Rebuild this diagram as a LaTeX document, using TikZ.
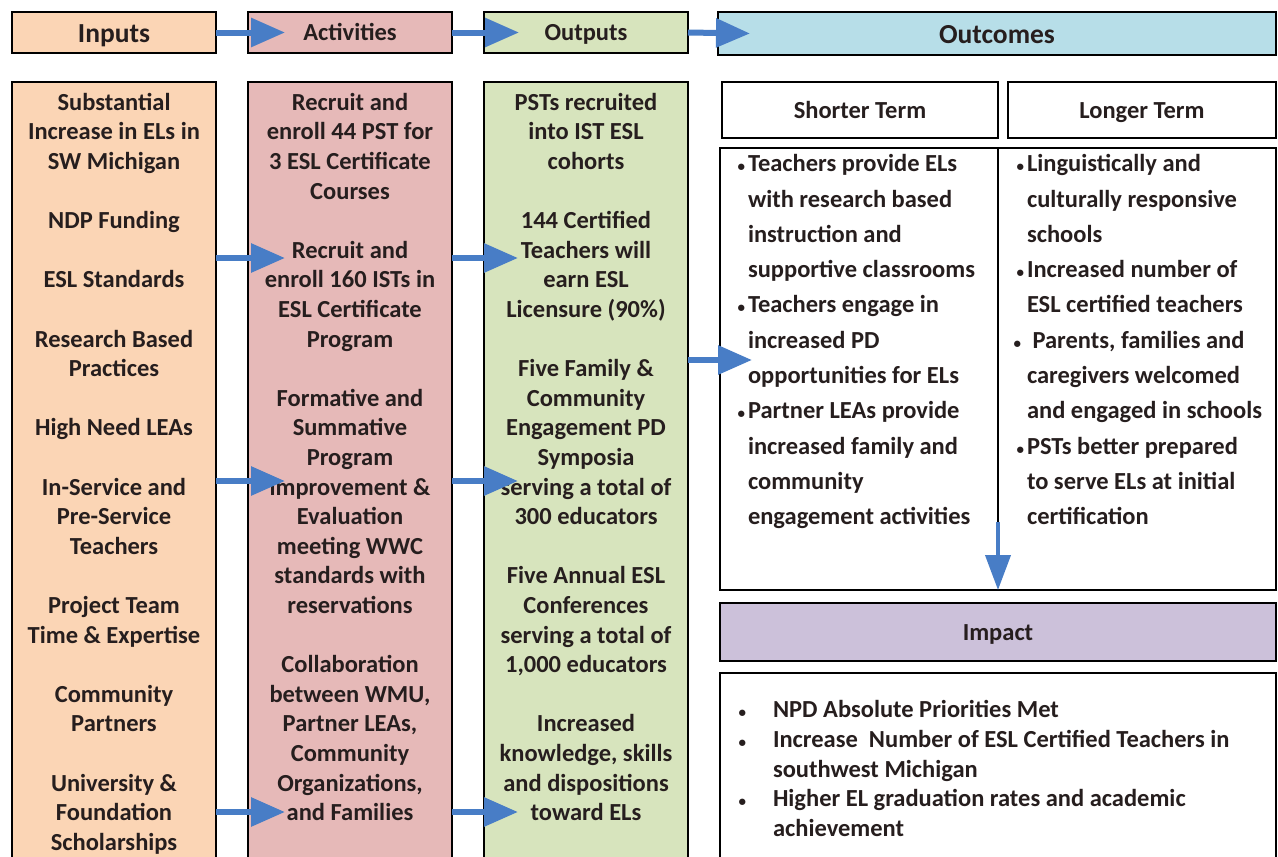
\documentclass[tikz,border=0pt]{standalone}
\usepackage{fontspec}
\setmainfont{Carlito}
\usetikzlibrary{arrows.meta,positioning,calc}

\definecolor{inputfill}{RGB}{251,213,181}
\definecolor{activityfill}{RGB}{230,185,184}
\definecolor{outputfill}{RGB}{215,228,189}
\definecolor{outcomefill}{RGB}{183,222,232}
\definecolor{impactfill}{RGB}{204,193,218}
\definecolor{arrowblue}{RGB}{72,125,198}
\definecolor{inkdark}{RGB}{38,30,30}

\tikzset{
  box/.style={draw=black, line width=2.6pt, inner sep=0pt, outer sep=0pt, anchor=north west},
  headfont/.style={font=\bfseries\fontsize{24.5}{29.6}\selectfont, text=inkdark,
    text height=19.5pt, text depth=3pt},
  bigfont/.style={font=\bfseries\fontsize{27.5}{30}\selectfont, text=inkdark,
    text height=22pt, text depth=3pt},
  coltext/.style={align=center, inner sep=0pt, outer sep=0pt, anchor=north,
    font=\bfseries\fontsize{24.5}{29.6}\selectfont, text=inkdark},
  listtext/.style={align=left, inner sep=0pt, outer sep=0pt, anchor=north west,
    font=\bfseries\fontsize{24.5}{35.3}\selectfont, text=inkdark},
  flow/.style={draw=arrowblue, line width=6pt, -{Triangle[length=34pt,width=28pt]}},
}
\newcommand{\blt}[1]{\llap{{\fontsize{15}{15}\selectfont\textbullet}\hspace{#1}}}

\begin{document}
\begin{tikzpicture}[x=1pt, y=-1pt]

    \useasboundingbox (0,0) rectangle (1278,857);
    \clip (0,0) rectangle (1278,857);
    \fill[white] (0,0) rectangle (1278,857);

    % headers
    \node[box, bigfont, fill=inputfill, minimum width=204pt, minimum height=41pt]
        (head_in) at (12,12) {Inputs};
    \node[box, headfont, fill=activityfill, minimum width=204pt, minimum height=41pt]
        (head_act) at (248,12) {Activities};
    \node[box, headfont, fill=outputfill, minimum width=204pt, minimum height=41pt]
        (head_out) at (484,12) {Outputs};
    \node[box, bigfont, fill=outcomefill, minimum width=558pt, minimum height=43pt]
        (head_oc) at (718,12) {Outcomes};


    % columns
    \node[box, fill=inputfill, minimum width=204pt, minimum height=800pt]
        (col_in) at (12,82) {};
    \node[box, fill=activityfill, minimum width=204pt, minimum height=800pt]
        (col_act) at (248,82) {};
    \node[box, fill=outputfill, minimum width=204pt, minimum height=800pt]
        (col_out) at (484,82) {};

    \node[coltext, below=7.5pt of col_in.north] (txt_in) {\strut Substantial\\Increase in ELs in\\SW Michigan\\[29.6pt]
        NDP Funding\\[29.6pt]ESL Standards\\[29.6pt]Research Based\\Practices\\[29.6pt]
        High Need LEAs\\[29.6pt]In-Service and\\Pre-Service\\Teachers\\[29.6pt]
        Project Team\\Time \& Expertise\\[29.6pt]Community\\Partners\\[29.6pt]
        University \&\\Foundation\\Scholarships};

    \node[coltext, below=7.5pt of col_act.north] (txt_act) {\strut Recruit and\\enroll 44 PST for\\3 ESL Certificate\\Courses\\[29.6pt]
        Recruit and\\enroll 160 ISTs in\\ESL Certificate\\Program\\[29.6pt]
        Formative and\\Summative\\Program\\improvement \&\\Evaluation\\meeting WWC\\standards with\\reservations\\[29.6pt]
        Collaboration\\between WMU,\\Partner LEAs,\\Community\\Organizations,\\and Families};

    \node[coltext, below=7.5pt of col_out.north] (txt_out) {\strut PSTs recruited\\into IST ESL\\cohorts\\[29.6pt]
        144 Certified\\Teachers will\\earn ESL\\Licensure (90\%)\\[29.6pt]
        Five Family \&\\Community\\Engagement PD\\Symposia\\serving a total of\\300 educators\\[29.6pt]
        Five Annual ESL\\Conferences\\serving a total of\\1,000 educators\\[29.6pt]
        Increased\\knowledge, skills\\and dispositions\\toward ELs};


    % outcomes
    \node[box, headfont, fill=white, minimum width=276pt, minimum height=56pt]
        (short_head) at (722,82) {Shorter Term};
    \node[box, headfont, fill=white, minimum width=268pt, minimum height=56pt]
        (long_head) at (1008,82) {Longer Term};
    \node[box, line width=1.6pt, fill=white, minimum width=556pt, minimum height=442pt]
        (oc_box) at (720,148) {};

    \coordinate (split_top) at (998,148);
    \coordinate (split_end) at (998,522);
    \draw[line width=1.4pt] (split_top) -- (split_end);

    \node[listtext] (txt_short) at (748,147) {\blt{3pt}\strut Teachers provide ELs\\with research based\\instruction and\\supportive classrooms\\
        \blt{3pt}Teachers engage in\\increased PD\\opportunities for ELs\\
        \blt{3pt}Partner LEAs provide\\increased family and\\community\\engagement activities};

    \node[listtext] (txt_long) at (1027,147) {\blt{3pt}\strut Linguistically and\\culturally responsive\\schools\\
        \blt{3pt}Increased number of\\ESL certified teachers\\
        \blt{6pt}\ Parents, families and\\caregivers welcomed\\and engaged in schools\\
        \blt{3pt}PSTs better prepared\\to serve ELs at initial\\certification};


    % impact
    \node[box, headfont, fill=impactfill, minimum width=556pt, minimum height=58pt]
        (impact_head) at (720,603) {Impact};
    \node[box, fill=white, minimum width=556pt, minimum height=200pt]
        (impact_box) at (720,673) {};

    \node[listtext, font=\bfseries\fontsize{24.5}{29.7}\selectfont] (txt_impact) at (773,697)
        {\blt{27pt}\strut NPD Absolute Priorities Met\\
        \blt{27pt}Increase\ \ Number of ESL Certified Teachers in\\southwest Michigan\\
        \blt{27pt}Higher EL graduation rates and academic\\achievement};


    % arrows
    \coordinate (row_a) at (0,258);
    \coordinate (row_b) at (0,481);
    \coordinate (row_c) at (0,812);
    \coordinate (row_oc) at (0,360);

    \draw[flow] (head_in.east) -- ($(head_act.west)+(37,0)$);
    \draw[flow] (head_act.east) -- ($(head_out.west)+(35,0)$);
    \draw[flow] (head_out.east) -- ($(head_oc.west)+(32,0)$);

    \foreach \r in {row_a,row_b,row_c}{
        \draw[flow] (col_in.east |- \r) -- ($(col_act.west |- \r)+(37,0)$);
        \draw[flow] (col_act.east |- \r) -- ($(col_out.west |- \r)+(34,0)$);
    }

    \draw[flow] (col_out.east |- row_oc) -- ($(oc_box.west |- row_oc)+(32,0)$);

    \draw[draw=arrowblue, line width=4pt, -{Triangle[length=35pt,width=25pt]}]
        (split_end) -- (oc_box.south -| split_end);

\end{tikzpicture}
\end{document}
